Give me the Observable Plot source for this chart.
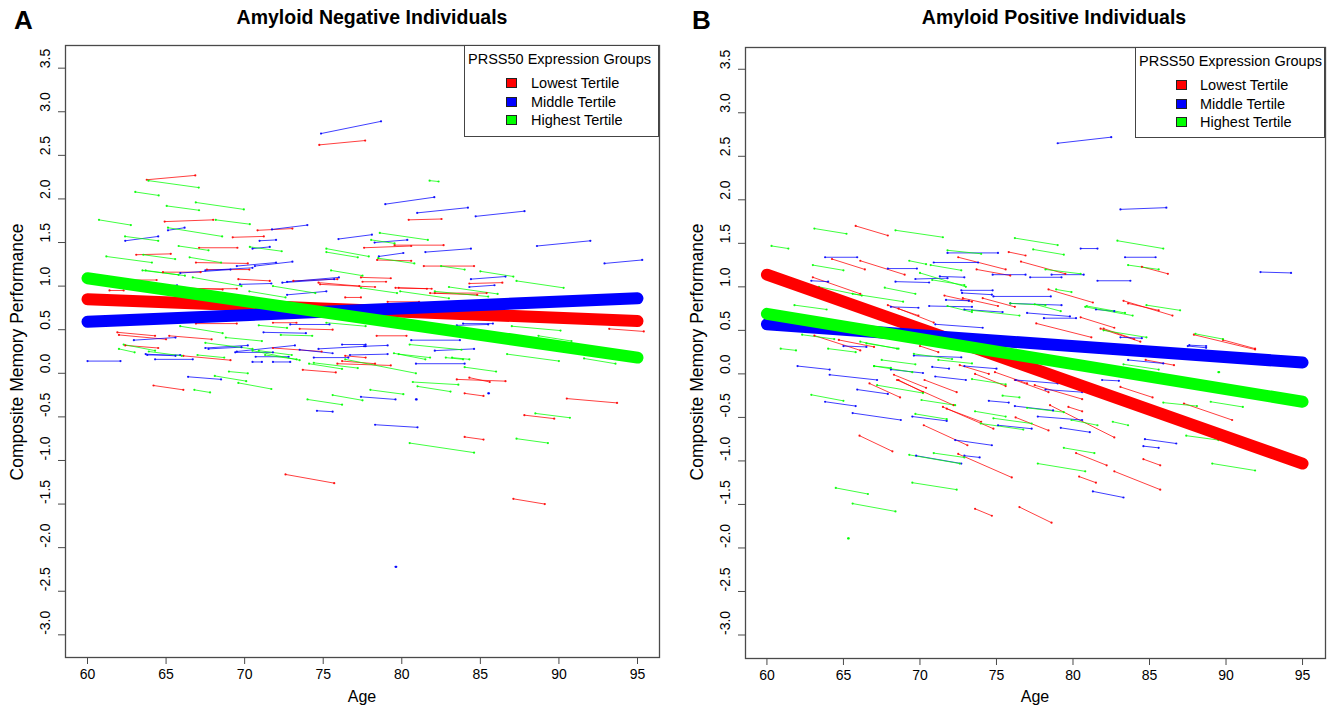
<!DOCTYPE html>
<html><head><meta charset="utf-8">
<script src="https://cdn.jsdelivr.net/npm/d3@7"></script>
<script src="https://cdn.jsdelivr.net/npm/@observablehq/plot@0.6"></script>
<style>
body{margin:0;background:#fff;font-family:"Liberation Sans",Arial,sans-serif;color:#000;}
#wrap{position:relative;width:1331px;height:707px;overflow:hidden;background:#fff;}
.panel{position:absolute;top:0;}
.abs{position:absolute;white-space:nowrap;line-height:1;}
.title{font-weight:bold;font-size:19.5px;transform:translateX(-50%);}
.letter{font-weight:bold;font-size:26px;}
.ylab{font-size:17.5px;transform:translate(-50%,-50%) rotate(-90deg);}
.xlab{font-size:16px;transform:translate(-50%,-50%);}
.legend{position:absolute;border:1.3px solid #444;background:#fff;box-sizing:border-box;}
.legend .lt{position:absolute;font-size:14.5px;white-space:nowrap;transform:translateY(-50%);line-height:1;}
.legend .sw{position:absolute;width:11px;height:10px;border:1px solid #222;box-sizing:border-box;transform:translateY(-50%);}
</style></head>
<body><div id="wrap"></div>
<script>
// ---------- shared categories / ticks ----------
const groups = ["Lowest Tertile", "Middle Tertile", "Highest Tertile"];
const groupColors = ["#FF0000", "#0000FF", "#00FF00"];
const xTicks = [60, 65, 70, 75, 80, 85, 90, 95];
const yTicks = [-3.0, -2.5, -2.0, -1.5, -1.0, -0.5, 0.0, 0.5, 1.0, 1.5, 2.0, 2.5, 3.0, 3.5];
const ageRange = [60, 95];

// ---------- group regression lines (value at age 60, value at age 95) ----------
const fitA_start = [0.85, 0.59, 1.09];
const fitA_end   = [0.60, 0.86, 0.18];
const fitB_start = [1.14, 0.57, 0.69];
const fitB_end   = [-1.03, 0.13, -0.32];

// ---------- individual trajectories [age1, score1, age2, score2] ----------
// Panel A: amyloid negative
const segA_low = [
[74.75,2.62,77.67,2.67],[63.77,2.22,66.86,2.27],[64.91,1.74,68.0,1.76],[80.44,1.76,82.53,1.77],
[70.82,1.64,73.04,1.66],[69.24,1.56,71.22,1.57],[67.1,1.44,69.54,1.44],[63.1,1.36,65.3,1.37],
[77.6,1.44,80.6,1.46],[79.54,1.47,82.66,1.47],[78.43,1.30,80.6,1.29],[81.4,1.23,84.6,1.23],
[66.9,1.27,70.2,1.26],[67.6,1.19,70.3,1.19],[64.8,1.16,67.2,1.16],[84.3,1.03,86.4,1.04],
[62.8,1.07,64.4,1.07],[61.4,0.95,62.3,0.95],[66.2,0.98,68.6,0.96],[69.6,1.08,71.6,1.06],
[74.7,1.04,77.3,1.0],[76.4,0.87,77.4,0.87],[61.9,0.47,64.3,0.43],[62.0,0.44,65.0,0.39],
[65.2,0.43,67.9,0.39],[66.9,0.57,69.5,0.57],[71.8,0.58,73.3,0.58],[73.7,0.04,75.8,0.01],
[64.2,-0.14,66.1,-0.19],[62.4,0.32,64.5,0.29],[66.1,0.20,69.1,0.15],[71.8,0.29,74.9,0.25],
[75.9,0.11,79.3,0.09],[76.2,0.14,78.3,0.11],[83.5,-0.07,86.6,-0.09],[84.3,-0.05,85.6,-0.10],
[84.0,-0.23,85.2,-0.26],[90.5,-0.29,93.7,-0.34],[87.8,-0.48,89.7,-0.52],[84.0,-0.73,85.2,-0.76],
[72.6,-1.16,75.7,-1.26],[87.1,-1.44,89.1,-1.50],[77.4,1.10,79.3,1.09],[77.5,1.05,79.0,1.05],
[79.6,0.98,81.6,0.97],[81.8,0.92,84.8,0.90],[79.1,0.82,81.1,0.82],[78.4,0.43,80.3,0.43],
[93.2,0.51,95.4,0.48],[73.5,0.51,75.6,0.50],[76.4,0.20,77.7,0.18],[66.5,0.97,69.5,0.97],
[73.1,1.06,75.9,1.08],[74.8,1.02,78.3,0.99],[82.1,0.92,85.4,0.92],[79.8,0.98,81.9,0.97]
];
const segA_mid = [
[74.86,2.75,78.68,2.89],[78.95,1.94,82.07,2.02],[80.98,1.84,84.21,1.90],[84.70,1.80,87.81,1.86],
[71.74,1.65,73.99,1.70],[65.12,1.64,66.18,1.67],[62.4,1.52,64.5,1.57],[70.95,1.52,72.0,1.53],
[70.5,1.43,71.6,1.45],[75.97,1.54,78.1,1.59],[78.27,1.50,80.35,1.53],[81.5,1.39,84.4,1.43],
[78.54,1.34,80.1,1.38],[88.6,1.46,92.0,1.52],[92.9,1.26,95.3,1.30],[70.65,1.23,73.04,1.28],
[67.5,1.18,70.5,1.21],[65.9,1.15,69.1,1.19],[84.4,1.08,86.6,1.11],[84.3,0.99,85.9,1.01],
[64.5,1.0,65.7,1.01],[69.5,1.23,72.0,1.27],[72.4,1.04,75.7,1.08],[72.7,0.90,75.2,0.94],
[60.0,0.14,62.1,0.14],[62.95,0.38,65.6,0.41],[63.7,0.22,65.6,0.20],[64.3,0.16,66.7,0.16],
[67.5,0.29,70.2,0.32],[71.2,0.47,73.9,0.46],[72.9,0.56,75.4,0.56],[69.4,0.24,71.8,0.24],
[70.5,0.13,71.1,0.13],[71.8,0.13,72.9,0.13],[73.5,0.27,75.6,0.23],[66.4,-0.04,68.5,-0.07],
[63.8,0.21,65.9,0.21],[67.7,0.28,69.8,0.30],[69.5,0.25,73.2,0.32],[70.7,0.19,72.8,0.19],
[74.4,0.18,76.6,0.18],[77.6,0.31,79.1,0.32],[76.7,0.21,79.1,0.22],[80.9,0.11,84.0,0.11],
[77.4,-0.27,79.6,-0.30],[74.6,-0.43,75.6,-0.44],[78.3,-0.59,81.0,-0.62],[79.6,-2.22,79.65,-2.22],
[85.5,-0.23,85.55,-0.23],[80.9,-0.30,80.95,-0.30],[83.5,0.55,85.5,0.56],[80.6,0.38,83.7,0.38],
[82.1,0.26,84.6,0.28],[83.9,0.57,85.8,0.57],[76.2,0.33,77.7,0.33],[74.7,0.28,77.7,0.31],
[69.7,1.02,71.7,1.03],[72.7,1.05,76.0,1.10]
];
const segA_high = [
[63.88,2.21,67.08,2.13],[63.04,2.08,64.53,2.04],[81.77,2.21,82.34,2.20],[65.04,1.92,67.10,1.87],
[66.89,1.96,69.95,1.88],[68.16,1.76,70.33,1.71],[60.73,1.76,62.76,1.70],[65.12,1.67,68.57,1.57],
[62.39,1.57,64.50,1.52],[70.33,1.45,72.36,1.40],[65.8,1.46,67.7,1.41],[63.55,1.36,65.58,1.31],
[78.6,1.61,81.66,1.53],[78.05,1.53,79.54,1.49],[75.2,1.43,77.9,1.34],[75.2,1.39,77.2,1.33],
[78.5,1.32,80.8,1.26],[82.5,1.23,84.0,1.19],[61.2,1.34,64.1,1.27],[66.5,1.33,68.5,1.27],
[63.7,1.18,65.8,1.13],[75.5,1.18,77.5,1.12],[85.0,1.17,87.1,1.11],[87.3,1.06,90.3,0.98],
[66.7,1.10,69.8,1.0],[63.5,1.18,66.2,1.12],[70.3,0.94,72.6,0.87],[71.8,1.0,74.5,0.92],
[65.9,0.54,68.6,0.46],[62.3,0.33,64.3,0.26],[62.0,0.28,63.0,0.24],[67.0,0.21,68.7,0.18],
[63.9,0.25,66.0,0.20],[67.5,0.35,70.5,0.28],[68.8,0.41,71.1,0.37],[70.9,0.55,72.7,0.52],
[72.3,0.44,74.3,0.43],[70.5,0.26,73.5,0.15],[71.3,0.21,73.3,0.16],[74.1,0.11,76.2,0.05],
[69.0,0.02,70.2,0.0],[66.8,-0.19,67.8,-0.22],[69.6,-0.11,71.7,-0.18],[74.0,-0.30,76.2,-0.36],
[70.9,0.26,73.0,0.21],[74.4,0.12,77.2,0.06],[76.4,0.16,80.9,0.0],[79.8,0.22,81.8,0.18],
[83.2,0.18,84.3,0.16],[84.0,0.07,86.0,0.02],[80.7,-0.10,83.6,-0.13],[81.0,-0.15,83.1,-0.21],
[78.0,-0.19,80.1,-0.24],[75.6,-0.25,77.5,-0.31],[68.1,-0.03,70.1,-0.09],[88.5,-0.46,90.7,-0.51],
[87.3,-0.75,89.3,-0.80],[80.5,-0.80,84.6,-0.91],[86.7,0.22,90.0,0.14],[91.6,0.17,93.6,0.11],
[83.0,0.99,86.1,0.91],[77.4,0.98,79.7,0.92],[79.9,0.94,83.0,0.86],[87.0,0.54,90.1,0.49],
[88.7,0.43,90.8,0.37],[80.5,0.33,83.8,0.27],[79.5,0.23,81.5,0.16],[82.8,0.18,83.9,0.16],
[75.2,0.58,77.7,0.54],[82.1,0.94,85.5,0.88]
];

// Panel B: amyloid positive
const segB_low = [
[65.8,1.70,67.9,1.59],[75.8,1.40,76.9,1.36],[64.25,1.32,66.4,1.20],[66.1,1.30,69.0,1.14],
[72.5,1.34,75.6,1.20],[73.7,1.20,75.9,1.13],[76.6,1.29,79.5,1.15],[84.5,1.23,86.2,1.15],
[63.0,1.11,66.1,0.92],[71.6,0.90,73.4,0.83],[72.8,0.87,75.1,0.78],[74.1,0.87,76.2,0.77],
[78.4,0.97,81.3,0.82],[83.3,0.84,86.5,0.67],[83.6,0.81,85.6,0.73],[87.9,0.45,91.9,0.28],
[67.9,0.79,69.9,0.67],[68.6,0.75,70.9,0.59],[77.6,0.58,81.2,0.42],[80.5,0.65,82.7,0.53],
[82.0,0.52,84.0,0.40],[63.1,0.44,66.1,0.27],[64.7,0.39,67.0,0.31],[70.0,0.32,71.2,0.25],
[72.6,0.10,74.5,0.0],[68.3,-0.01,70.4,-0.16],[68.6,-0.07,70.2,-0.21],[66.7,-0.11,68.7,-0.27],
[70.3,-0.07,72.4,-0.21],[71.5,-0.38,74.8,-0.63],[71.75,-0.40,74.0,-0.55],[73.6,0.0,75.6,-0.14],
[74.9,0.02,77.0,-0.11],[76.2,-0.07,78.4,-0.21],[77.5,-0.13,80.6,-0.29],[76.25,-0.50,78.4,-0.65],
[79.7,-0.38,80.6,-0.43],[78.5,-0.36,82.7,-0.73],[83.1,-0.15,85.2,-0.27],[70.25,-0.59,73.1,-0.82],
[66.05,-0.71,68.2,-0.89],[72.5,-0.92,76.0,-1.19],[73.6,-1.55,74.7,-1.63],[76.5,-1.53,78.6,-1.71],
[80.2,-0.91,82.2,-1.05],[80.4,-1.18,81.5,-1.25],[82.7,-1.12,85.7,-1.33],[84.6,-0.98,85.7,-1.05],
[87.25,-0.34,90.4,-0.53],[84.75,0.16,86.6,0.10],[89.8,0.39,91.9,0.29],[81.8,0.52,84.4,0.37],
[68.5,-0.07,72.2,-0.36]
];
const segB_mid = [
[79.0,2.65,82.5,2.72],[83.1,1.89,86.1,1.91],[92.25,1.17,94.25,1.16],[80.5,1.44,81.6,1.44],
[71.8,1.39,75.1,1.39],[63.8,1.34,65.9,1.34],[67.9,1.21,69.8,1.21],[70.9,1.28,73.8,1.28],
[74.75,1.14,76.9,1.14],[77.2,1.11,79.25,1.11],[78.6,1.14,80.7,1.14],[83.4,1.34,85.4,1.34],
[81.6,1.07,83.75,1.07],[68.4,1.06,70.6,1.05],[69.7,1.09,71.8,1.10],[71.3,1.12,72.9,1.11],
[62.9,1.07,64.0,1.06],[72.7,0.96,74.75,0.96],[72.75,0.93,74.7,0.91],[74.8,0.89,78.55,0.89],
[75.9,0.81,79.25,0.79],[81.5,0.74,82.7,0.72],[87.6,0.33,88.7,0.32],[68.1,0.77,69.9,0.76],
[70.6,0.78,73.4,0.77],[72.9,0.74,75.4,0.71],[77.0,0.70,79.8,0.66],[78.1,0.64,80.2,0.64],
[71.0,0.57,74.1,0.53],[83.1,0.42,84.5,0.41],[65.0,0.32,66.5,0.31],[62.0,0.09,64.1,0.05],
[64.1,-0.01,67.2,-0.07],[68.1,0.05,70.2,0.01],[69.6,0.21,72.7,0.19],[70.8,0.08,71.9,0.06],
[72.9,0.09,75.0,0.06],[71.0,-0.03,73.0,-0.07],[65.9,-0.18,67.9,-0.23],[63.8,-0.32,65.8,-0.37],
[65.6,-0.45,68.75,-0.53],[69.5,-0.49,71.75,-0.54],[76.25,-0.07,79.0,-0.11],[78.2,-0.18,80.6,-0.21],
[74.5,-0.31,75.8,-0.33],[76.2,-0.37,78.7,-0.42],[77.7,-0.49,80.6,-0.53],[75.1,-0.59,77.3,-0.63],
[79.2,-0.62,81.1,-0.67],[81.9,-0.07,83.0,-0.08],[72.3,-0.76,74.7,-0.82],[72.9,-0.94,73.9,-0.96],
[69.75,-0.94,72.7,-1.03],[81.3,-1.35,83.3,-1.42],[84.7,-0.75,86.75,-0.80],[84.6,-0.83,85.6,-0.85],
[83.6,0.16,85.9,0.12],[87.5,0.32,88.7,0.30],[71.7,0.85,73.2,0.84]
];
const segB_high = [
[60.3,1.47,61.4,1.44],[63.1,1.67,65.2,1.61],[68.4,1.65,71.5,1.57],[76.2,1.56,79.0,1.48],
[77.4,1.43,79.4,1.37],[82.9,1.53,85.9,1.44],[71.8,1.42,74.0,1.38],[63.0,1.25,65.0,1.19],
[69.3,1.30,70.4,1.26],[70.7,1.25,72.7,1.19],[78.2,1.20,80.5,1.15],[83.6,1.25,85.6,1.20],
[70.0,1.16,73.0,1.00],[63.4,1.00,66.2,0.90],[65.6,0.92,68.9,0.83],[67.7,0.99,69.7,0.92],
[75.9,0.81,78.2,0.79],[77.5,0.80,79.2,0.72],[78.9,0.97,79.9,0.94],[80.9,0.78,83.4,0.70],
[84.8,0.79,87.0,0.73],[88.0,0.46,89.8,0.40],[61.8,0.79,63.9,0.74],[71.8,0.78,73.4,0.71],
[73.4,0.73,76.5,0.67],[82.0,0.50,84.8,0.42],[62.3,0.45,64.4,0.40],[64.0,0.29,65.8,0.25],
[60.9,0.29,61.9,0.27],[66.5,0.35,68.6,0.29],[67.0,0.09,68.1,0.07],[67.5,0.16,69.7,0.11],
[69.6,0.23,72.1,0.17],[71.2,0.16,73.4,0.12],[67.2,-0.13,70.2,-0.22],[62.9,-0.24,65.0,-0.31],
[70.1,-0.30,72.3,-0.36],[73.4,-0.06,75.6,-0.12],[75.4,-0.25,76.5,-0.27],[73.6,-0.43,75.6,-0.49],
[77.0,-0.39,79.4,-0.44],[74.8,-0.51,77.3,-0.57],[73.97,-0.57,76.75,-0.64],[79.9,-0.53,81.6,-0.59],
[82.6,-0.55,83.6,-0.59],[69.7,-0.46,71.75,-0.52],[69.3,-0.93,72.6,-1.03],[70.9,-0.91,72.9,-0.96],
[69.5,-1.25,72.4,-1.33],[64.5,-1.31,66.6,-1.38],[65.6,-1.49,68.4,-1.58],[65.3,-1.89,65.35,-1.89],
[77.7,-1.03,80.8,-1.12],[79.4,-0.85,81.4,-0.91],[87.4,-0.71,89.5,-0.76],[89.1,-1.03,91.9,-1.11],
[89.0,-0.32,91.1,-0.38],[85.9,-0.33,88.1,-0.37],[83.3,0.11,85.6,0.05],[89.5,0.02,89.55,0.02],
[80.8,0.77,83.9,0.67],[70.8,1.08,72.9,1.02],[66.1,0.37,68.5,0.29],[67.0,0.09,69.5,0.02]
];

// ---------- build ----------
const FONT = '"Liberation Sans", Arial, Helvetica, sans-serif';
const wrap = document.getElementById("wrap");

function toRows(low, mid, high) {
  return [low, mid, high].flatMap((arr, i) =>
    arr.map(([x1, y1, x2, y2]) => ({group: groups[i], x1, y1, x2, y2})));
}
function toPoints(rows) {
  return rows.flatMap(r => [{group: r.group, x: r.x1, y: r.y1}, {group: r.group, x: r.x2, y: r.y2}]);
}
function fitRows(start, end) {
  return groups.map((g, i) => ({group: g, x1: ageRange[0], x2: ageRange[1], y1: start[i], y2: end[i]}));
}

function makePanel(cfg) {
  const rows = toRows(...cfg.segs);
  const pts = toPoints(rows);
  const fits = fitRows(cfg.fitStart, cfg.fitEnd);
  const chart = Plot.plot({
    width: cfg.width, height: 707,
    marginLeft: cfg.mL, marginRight: cfg.mR, marginTop: cfg.mT, marginBottom: cfg.mB,
    x: {domain: cfg.xDomain},
    y: {domain: cfg.yDomain},
    color: {domain: groups, range: groupColors},
    style: {fontFamily: FONT, fontSize: "14px", color: "#333", background: "transparent", overflow: "visible"},
    marks: [
      Plot.link(rows, {x1: "x1", y1: "y1", x2: "x2", y2: "y2", stroke: "group", strokeWidth: 1, strokeOpacity: 0.75}),
      Plot.dot(pts, {x: "x", y: "y", fill: "group", r: 1.1, fillOpacity: 0.9}),
      Plot.link(fits, {x1: "x1", y1: "y1", x2: "x2", y2: "y2", stroke: "group", strokeWidth: 12, strokeLinecap: "round"}),
      Plot.frame({stroke: "#4a4a4a", strokeWidth: 1.3}),
      Plot.axisX({ticks: xTicks, tickSize: 7, tickPadding: 5, label: null, tickFormat: d => String(d), fill: "#000", stroke: "#4a4a4a"}),
      Plot.axisY({ticks: yTicks, tickSize: 7, label: null, tickFormat: () => "", stroke: "#4a4a4a"}),
      Plot.text(yTicks, {y: d => d, text: d => d.toFixed(1), frameAnchor: "left", dx: -20, rotate: -90, fill: "#000", fontSize: 14})
    ]
  });
  chart.classList.add("panel");
  chart.style.left = cfg.left + "px";
  wrap.appendChild(chart);

  const add = (cls, text, x, y) => {
    const d = document.createElement("div");
    d.className = "abs " + cls; d.textContent = text;
    d.style.left = x + "px"; d.style.top = y + "px";
    wrap.appendChild(d); return d;
  };
  add("letter", cfg.letter, cfg.letterX, 7);
  add("title", cfg.title, cfg.titleX, 8);
  add("ylab", "Composite Memory Performance", cfg.ylabX, 352);
  add("xlab", "Age", cfg.xlabX, 697);

  const lg = document.createElement("div");
  lg.className = "legend";
  Object.assign(lg.style, {left: cfg.lg.x + "px", top: cfg.lg.y + "px", width: cfg.lg.w + "px", height: cfg.lg.h + "px"});
  const t = document.createElement("div");
  t.className = "lt"; t.textContent = "PRSS50 Expression Groups";
  t.style.left = "3px"; t.style.top = "13px";
  lg.appendChild(t);
  groups.forEach((g, i) => {
    const cy = 37 + i * 18.5;
    const sw = document.createElement("div");
    sw.className = "sw"; sw.style.left = cfg.lg.sw + "px"; sw.style.top = cy + "px";
    sw.style.background = groupColors[i];
    lg.appendChild(sw);
    const tx = document.createElement("div");
    tx.className = "lt"; tx.textContent = g;
    tx.style.left = cfg.lg.tx + "px"; tx.style.top = cy + "px";
    lg.appendChild(tx);
  });
  wrap.appendChild(lg);
}

makePanel({
  left: 0, width: 665, mL: 65, mR: 6, mT: 45, mB: 50,
  xDomain: [58.6, 96.4], yDomain: [-3.26, 3.76],
  segs: [segA_low, segA_mid, segA_high], fitStart: fitA_start, fitEnd: fitA_end,
  letter: "A", letterX: 14, title: "Amyloid Negative Individuals", titleX: 372,
  ylabX: 18, xlabX: 362,
  lg: {x: 464, y: 45, w: 195, h: 92, sw: 41, tx: 66}
});
makePanel({
  left: 665, width: 666, mL: 80, mR: 6, mT: 47, mB: 49,
  xDomain: [58.6, 96.5], yDomain: [-3.27, 3.75],
  segs: [segB_low, segB_mid, segB_high], fitStart: fitB_start, fitEnd: fitB_end,
  letter: "B", letterX: 692, title: "Amyloid Positive Individuals", titleX: 1054,
  ylabX: 698, xlabX: 1035,
  lg: {x: 1135, y: 47, w: 190, h: 91, sw: 40, tx: 64}
});
</script>
</body></html>
